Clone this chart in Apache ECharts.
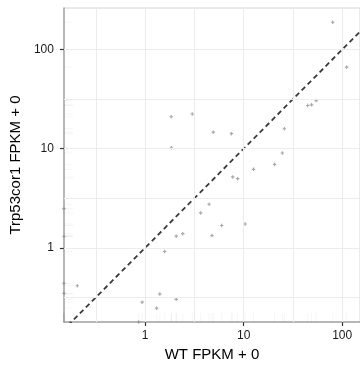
<!DOCTYPE html>
<html><head><meta charset="utf-8">
<script src="https://cdn.jsdelivr.net/npm/echarts@6/dist/echarts.min.js"></script>
<style>html,body{margin:0;padding:0;background:#fff}#c{width:360px;height:367px}</style>
</head><body><div id="c"></div>
<script>
// WT FPKM (x) and Trp53cor1 FPKM (y); 0 = zero expression (drawn at panel edge like ggplot -Inf)
const wtFPKM = [80.2, 111, 1.84, 3.01, 4.92, 7.52, 1.85, 7.75, 8.69, 12.6, 44.7, 48.9, 54.5, 25.9, 24.7, 20.6, 4.46, 3.66, 5.99, 10.35, 2.07, 2.41, 4.77, 1.58, 1.41, 2.07, 0.934, 1.31, 0.86, 0, 0, 0, 0, 0.205];
const trpFPKM = [188.8, 66.5, 21.0, 22.4, 14.7, 14.2, 10.2, 5.19, 4.99, 6.19, 27.3, 27.7, 30.6, 15.9, 9.05, 6.95, 2.75, 2.25, 1.68, 1.74, 1.31, 1.39, 1.33, 0.918, 0.341, 0.302, 0.283, 0.246, 0, 2.49, 1.30, 0.437, 0.347, 0.414];
const xTickValues = [1, 10, 100];
const yTickValues = [1, 10, 100];
const xTickLabels = ['1', '10', '100'];
const yTickLabels = ['1', '10', '100'];
const xGridValues = [0.3162, 1, 3.162, 10, 31.62, 100];
const yGridValues = [0.3162, 1, 3.162, 10, 31.62, 100];
const xRange = [0.150, 151.7];
const yRange = [0.178, 263];
const identityLine = [0.01, 1000];

const L = Math.log10;
const xMin = L(xRange[0]), xMax = L(xRange[1]);
const yMin = L(yRange[0]), yMax = L(yRange[1]);
const toX = v => v > 0 ? L(v) : xMin;
const toY = v => v > 0 ? L(v) : yMin;
const pts = wtFPKM.map((x, i) => [toX(x), toY(trpFPKM[i])]);
const FONT = 'Liberation Sans, Arial, Helvetica, sans-serif';

function labelFor(vals, labels) {
  return v => {
    for (let i = 0; i < vals.length; i++) if (Math.abs(L(vals[i]) - v) < 1e-6) return labels[i];
    return '';
  };
}

const chart = echarts.init(document.getElementById('c'), null, {renderer: 'canvas'});
chart.setOption({
  animation: false,
  backgroundColor: '#fff',
  grid: {left: 59, right: -3, top: 8, bottom: 44.3, show: true, borderColor: '#d4d4d4', borderWidth: 1, backgroundColor: '#fff'},
  xAxis: {
    type: 'value', min: xMin, max: xMax,
    name: 'WT FPKM + 0', nameLocation: 'middle', nameGap: 21,
    nameTextStyle: {fontFamily: FONT, fontSize: 15, color: '#000'},
    axisLine: {show: true, onZero: false, lineStyle: {color: '#a6a6a6', width: 1.5}},
    axisTick: {show: true, length: 4, customValues: xTickValues.map(L), lineStyle: {color: '#333', width: 1.2}},
    axisLabel: {customValues: xTickValues.map(L), formatter: labelFor(xTickValues, xTickLabels), margin: 8, fontFamily: FONT, fontSize: 12, color: '#1a1a1a'},
    splitLine: {show: false}
  },
  yAxis: {
    type: 'value', min: yMin, max: yMax,
    name: 'Trp53cor1 FPKM + 0', nameLocation: 'middle', nameGap: 33, nameRotate: 90,
    nameTextStyle: {fontFamily: FONT, fontSize: 15, color: '#000'},
    axisLine: {show: true, onZero: false, lineStyle: {color: '#a6a6a6', width: 1.5}},
    axisTick: {show: true, length: 4, customValues: yTickValues.map(L), lineStyle: {color: '#333', width: 1.2}},
    axisLabel: {customValues: yTickValues.map(L), formatter: labelFor(yTickValues, yTickLabels), margin: 10, fontFamily: FONT, fontSize: 12, color: '#1a1a1a'},
    splitLine: {show: false}
  },
  series: [
    {
      type: 'line', data: [], z: 1, silent: true,
      markLine: {
        silent: true, symbol: 'none', label: {show: false},
        lineStyle: {color: '#ececec', width: 1, type: 'solid'},
        data: xGridValues.map(v => ({xAxis: L(v)})).concat(yGridValues.map(v => ({yAxis: L(v)})))
      }
    },
    {
      type: 'scatter', z: 2, silent: true, clip: false,
      symbol: 'rect', symbolSize: [1, 9], symbolOffset: [0, -4.5],
      itemStyle: {color: 'rgba(0,0,0,0.05)'},
      data: pts.map(p => [p[0], yMin])
    },
    {
      type: 'scatter', z: 2, silent: true, clip: false,
      symbol: 'rect', symbolSize: [9, 1], symbolOffset: [4.5, 0],
      itemStyle: {color: 'rgba(0,0,0,0.05)'},
      data: pts.map(p => [xMin, p[1]])
    },
    {
      type: 'scatter', z: 3, clip: false,
      symbol: 'path://M1,0H2V1H3V2H2V3H1V2H0V1H1Z', symbolSize: 3.5,
      itemStyle: {color: '#939393'},
      data: pts
    },
    {
      type: 'line', z: 4, clip: true, symbol: 'none', silent: true,
      lineStyle: {color: '#3a3a3a', width: 1.8, type: [5, 3.5]},
      data: identityLine.map(v => [L(v), L(v)])
    }
  ]
});
</script></body></html>
